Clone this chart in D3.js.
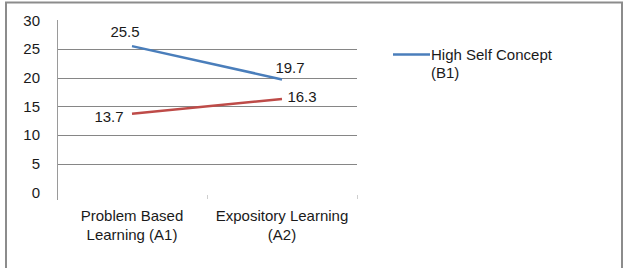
<!DOCTYPE html>
<html><head><meta charset="utf-8">
<script src="https://cdn.jsdelivr.net/npm/d3@7"></script>
<style>body{margin:0;background:#fff}svg{display:block}text{font-family:"Liberation Sans",Arial,sans-serif;fill:#1a1a1a}</style>
</head><body>
<script>
const categories = [["Problem Based","Learning (A1)"],["Expository Learning","(A2)"]];
const categoryKeys = ["A1","A2"];
const seriesNames = ["High Self Concept (B1)","Low Self Concept (B2)"];
const highValues = [25.5, 19.7];
const lowValues = [13.7, 16.3];
const yTicks = [0,5,10,15,20,25,30];
const legendLines = ["High Self Concept","(B1)"];

const W=632,H=270;
const svg=d3.select("body").append("svg").attr("width",W).attr("height",H);
// frame
svg.append("path").attr("d","M6,268V2.5H622V268").attr("fill","none").attr("stroke","#8c8c8c").attr("stroke-width",2);

const x=d3.scaleBand().domain(categoryKeys).range([57,357]).padding(0);
const y=d3.scaleLinear().domain([0,30]).range([192.5,20.3]);
const cx=k=>x(k)+x.bandwidth()/2;

// gridlines
svg.append("g").selectAll("line").data(yTicks.filter(t=>t>0&&t<30)).join("line")
 .attr("x1",57).attr("x2",357).attr("y1",d=>Math.round(y(d))+0.5).attr("y2",d=>Math.round(y(d))+0.5)
 .attr("stroke","#868686").attr("stroke-width",1);
// y axis
const ya=svg.append("g").attr("transform","translate(57,0)").call(d3.axisLeft(y).tickValues(yTicks).tickSize(0).tickPadding(17));
ya.select(".domain").remove();
ya.selectAll("text").attr("font-size",15).attr("fill","#1a1a1a").attr("font-family","Liberation Sans, Arial, sans-serif");
svg.append("line").attr("x1",57.5).attr("x2",57.5).attr("y1",20).attr("y2",200).attr("stroke","#9a9a9a");
// category ticks
svg.append("g").selectAll("line").data(categoryKeys).join("line")
 .attr("x1",d=>x(d)+x.bandwidth()+0.5).attr("x2",d=>x(d)+x.bandwidth()+0.5).attr("y1",195).attr("y2",199).attr("stroke","#cfcfcf");
// category labels
const cl=svg.append("g").selectAll("text").data(categoryKeys).join("text")
 .attr("x",d=>cx(d)).attr("text-anchor","middle").attr("font-size",15);
cl.each(function(d,i){
  const t=d3.select(this);
  categories[i].forEach((s,j)=>t.append("tspan").attr("x",cx(d)).attr("y",221+j*19).text(s));
});

const line=d3.line().x((d,i)=>cx(categoryKeys[i])).y(d=>y(d));
svg.append("path").datum(lowValues).attr("d",line).attr("fill","none").attr("stroke","#be4b48").attr("stroke-width",2.5);
svg.append("path").datum(highValues).attr("d",line).attr("fill","none").attr("stroke","#4a7ebb").attr("stroke-width",2.5);

// data labels
const hiOff=[[-7,-9],[8,-6]];
const loOff=[[-23,8],[20,3]];
svg.append("g").selectAll("text").data(highValues).join("text")
 .attr("x",(d,i)=>cx(categoryKeys[i])+hiOff[i][0]).attr("y",(d,i)=>y(d)+hiOff[i][1])
 .attr("text-anchor","middle").attr("font-size",15).text(d=>d.toFixed(1));
svg.append("g").selectAll("text").data(lowValues).join("text")
 .attr("x",(d,i)=>cx(categoryKeys[i])+loOff[i][0]).attr("y",(d,i)=>y(d)+loOff[i][1])
 .attr("text-anchor","middle").attr("font-size",15).text(d=>d.toFixed(1));

// legend
svg.append("line").attr("x1",393).attr("x2",430).attr("y1",54.5).attr("y2",54.5).attr("stroke","#4a7ebb").attr("stroke-width",2.5);
svg.append("g").selectAll("text").data(legendLines).join("text")
 .attr("x",431).attr("y",(d,i)=>60+i*18).attr("font-size",15).text(d=>d);
</script>
</body></html>
